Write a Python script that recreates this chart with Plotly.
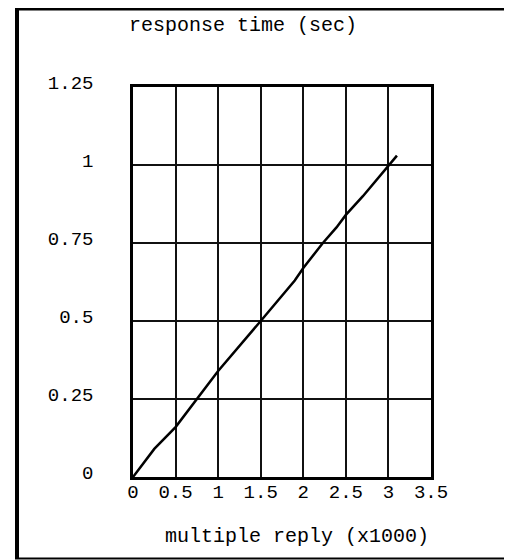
import plotly.graph_objects as go

# Data
reply_k = [0, 0.25, 0.5, 1.0, 1.5, 1.9, 2.0, 2.23, 2.39, 2.5, 2.7, 3.0, 3.1]
resp_sec = [0, 0.09, 0.16, 0.34, 0.50, 0.63, 0.67, 0.75, 0.80, 0.84, 0.90, 1.00, 1.03]

x_ticks = [0, 0.5, 1, 1.5, 2, 2.5, 3, 3.5]
x_tick_text = ["0", "0.5", "1", "1.5", "2", "2.5", "3", "3.5"]
y_ticks = [0, 0.25, 0.5, 0.75, 1, 1.25]
y_tick_text = ["0", "0.25", "0.5", "0.75", "1", "1.25"]

title_text = "response time (sec)"
xlabel_text = "multiple reply (x1000)"

FONT = "Liberation Mono, Courier New, monospace"

# The page body adds an 8px margin; compensate so the picture lands at page coords
OFF = 8
W, H = 512 - OFF, 560 - OFF
# plot area in page coordinates: x 133..431, y 87..477
L = 133 - OFF
T = 87 - OFF
R = W - (431 - OFF)
B = H - (477 - OFF)
pw, ph = W - L - R, H - T - B


def px(xp):
    return (xp - OFF - L) / pw


def py(yp):
    return (H - B - (yp - OFF)) / ph


fig = go.Figure()
fig.add_trace(go.Scatter(
    x=reply_k, y=resp_sec, mode="lines",
    line=dict(color="black", width=2.5),
    showlegend=False, hoverinfo="skip",
))

fig.update_layout(
    width=W, height=H,
    margin=dict(l=L, r=R, t=T, b=B, pad=0),
    paper_bgcolor="white", plot_bgcolor="white",
    font=dict(family=FONT, size=19, color="black"),
    xaxis=dict(
        range=[0, 3.5], tickvals=x_ticks, ticktext=x_tick_text,
        showgrid=True, gridcolor="#111", gridwidth=1.5,
        showline=True, linecolor="black", linewidth=2.5, mirror=True,
        ticks="", zeroline=False, ticklabelstandoff=-5,
        tickfont=dict(family=FONT, size=19, color="black"),
    ),
    yaxis=dict(
        range=[0, 1.25], tickvals=y_ticks, ticktext=y_tick_text,
        showgrid=True, gridcolor="#111", gridwidth=1.5,
        showline=True, linecolor="black", linewidth=2.5, mirror=True,
        ticks="", zeroline=False, ticklabelstandoff=33, ticklabelshift=-5,
        tickfont=dict(family=FONT, size=19, color="black"),
    ),
    annotations=[
        dict(text=title_text, x=px(242.5), y=py(26), xref="paper", yref="paper",
             xanchor="center", yanchor="middle", showarrow=False,
             font=dict(family=FONT, size=20, color="black")),
        dict(text=xlabel_text, x=px(297), y=py(536), xref="paper", yref="paper",
             xanchor="center", yanchor="middle", showarrow=False,
             font=dict(family=FONT, size=20, color="black")),
    ],
    shapes=[
        dict(type="line", xref="paper", yref="paper", x0=px(17), x1=px(17), y0=py(9), y1=py(559),
             line=dict(color="black", width=4)),
        dict(type="line", xref="paper", yref="paper", x0=px(15), x1=px(511), y0=py(9), y1=py(9),
             line=dict(color="black", width=3)),
        dict(type="line", xref="paper", yref="paper", x0=px(509.5), x1=px(509.5), y0=py(8), y1=py(559),
             line=dict(color="black", width=3)),
        dict(type="line", xref="paper", yref="paper", x0=px(15), x1=px(511), y0=py(558.5), y1=py(558.5),
             line=dict(color="black", width=2)),
    ],
)

fig.write_html("out.html")
